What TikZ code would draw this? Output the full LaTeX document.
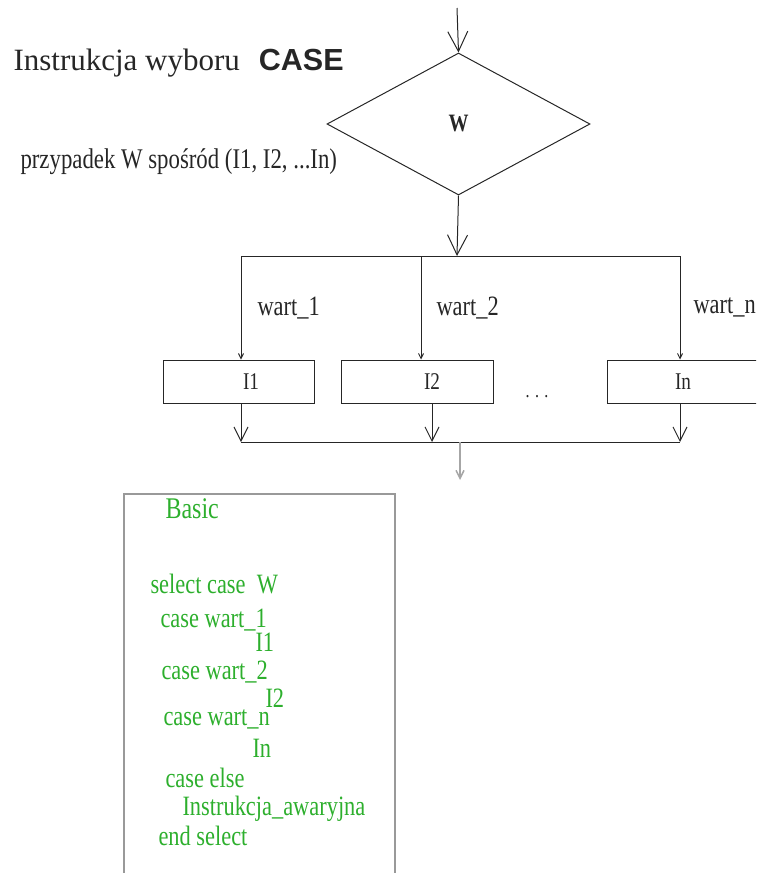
\documentclass[tikz,border=0pt]{standalone}
\usepackage{fontspec}
\setmainfont[FakeStretch=0.8]{Liberation Serif}
\newfontfamily\titlefont{Liberation Serif}
\newfontfamily\casefont{Liberation Sans}
\usetikzlibrary{shapes.geometric,arrows.meta}
\definecolor{codegreen}{RGB}{45,175,45}

\tikzset{
  arr/.style={-{Straight Barb[length=#1,width=#1]}},
  arr/.default=14pt,
  decision/.style={diamond, draw, minimum width=263pt, minimum height=142pt, inner sep=0pt},
  instr/.style={draw, rectangle, minimum width=151pt, minimum height=43pt, inner sep=0pt,
    font=\fontsize{24}{26}\selectfont},
  lbl/.style={anchor=base west, inner sep=0pt, font=\fontsize{28}{30}\selectfont},
  code/.style={anchor=base west, inner sep=0pt, text=codegreen, font=\fontsize{28}{30}\selectfont}
}

\begin{document}
\begin{tikzpicture}[x=1pt, y=-1pt, line width=1pt, color=black!85]
  \useasboundingbox (0,0) rectangle (756,873);
  \clip (0,0) rectangle (756,873);

  % title
  \node[anchor=base west, inner sep=0pt] (title) at (13,70)
    {\titlefont\fontsize{31}{33}\selectfont Instrukcja wyboru\hspace{19pt}{\casefont\bfseries\fontsize{30.5}{33}\selectfont CASE}};
  \node[lbl, font=\fontsize{28.5}{30}\selectfont] (sub) at (20,168) {przypadek W spośród (I1, I2, ...In)};

  % flowchart
  \coordinate (in) at (457,8);
  \node[decision, font=\bfseries\fontsize{25}{25}\selectfont] (W) at (458.5,124) {W};
  \coordinate (split) at (457,256);
  \coordinate (B1) at (241,256);
  \coordinate (B2) at (421,256);
  \coordinate (Bn) at (680,256);

  \node[instr] (I1) at (238.5,381.5) {\hspace*{25pt}I1};
  \node[instr, minimum width=152pt] (I2) at (417,381.5) {\hspace*{30pt}I2};
  \node[instr, minimum width=152pt] (In) at (683,381.5) {In};
  \node[font=\fontsize{20}{20}\selectfont] (dots) at (537,397) {. . .};

  \coordinate (D1) at (241,442);
  \coordinate (D2) at (432,442);
  \coordinate (Dn) at (680,442);
  \coordinate (X) at (460,442);
  \coordinate (Y) at (460,480);

  \draw[arr=20pt] (in) -- (W.north);
  \draw[arr=20pt] (W.south) -- (split);
  \draw (B1) -- (Bn);
  \foreach \b/\i in {B1/I1, B2/I2, Bn/In}
    \draw[arr=5pt] (\b) -- (\b |- \i.north);
  \foreach \d/\i in {D1/I1, D2/I2, Dn/In}
    \draw[arr] (\d |- \i.south) -- (\d);
  \draw (D1) -- (Dn);
  \draw[arr=8pt, gray!70, line width=1.5pt] (X) -- (Y);

  \node[lbl] (w1) at (257,315) {wart\_1};
  \node[lbl] (w2) at (436,315) {wart\_2};
  \node[lbl] (wn) at (693,313) {wart\_n};

  % Basic listing
  \draw[gray!80, line width=1.2pt] (124,880) -- (124,494) -- (395,494) -- (395,880);
  \node[code, font=\fontsize{30}{32}\selectfont] (basic) at (165,518) {Basic};
  \node[code] (c1) at (150,593) {select case\ \ W};
  \node[code] (c2) at (160,627) {case wart\_1};
  \node[code] (c3) at (255,651) {I1};
  \node[code] (c4) at (161,679) {case wart\_2};
  \node[code] (c5) at (265,707) {I2};
  \node[code] (c6) at (163,725) {case wart\_n};
  \node[code] (c7) at (252,757) {In};
  \node[code] (c8) at (165,787) {case else};
  \node[code] (c9) at (182,815) {Instrukcja\_awaryjna};
  \node[code] (c10) at (158,845) {end select};
\end{tikzpicture}
\end{document}
